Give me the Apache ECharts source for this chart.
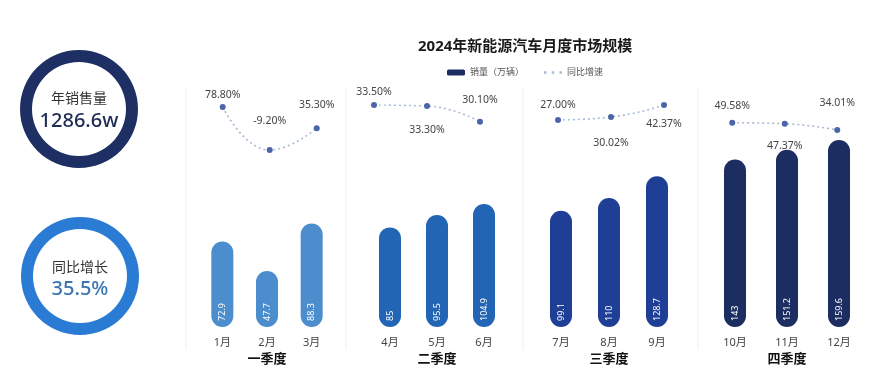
<!DOCTYPE html>
<html>
<head>
<meta charset="utf-8">
<script src="https://cdn.jsdelivr.net/npm/echarts@6/dist/echarts.min.js"></script>
<style>
html,body{margin:0;padding:0;background:#fff;}
#chart{width:877px;height:365px;}
</style>
</head>
<body>
<div id="chart"></div>
<script>
// ---- data ----
const chartTitle = '2024年新能源汽车月度市场规模';
const months = ['1月','2月','3月','4月','5月','6月','7月','8月','9月','10月','11月','12月'];
const quarters = ['一季度','二季度','三季度','四季度'];
const sales = [72.9, 47.7, 88.3, 85, 95.5, 104.9, 99.1, 110, 128.7, 143, 151.2, 159.6];
const yoy = [78.80, -9.20, 35.30, 33.50, 33.30, 30.10, 27.00, 30.02, 42.37, 49.58, 47.37, 34.01];
const salesName = '销量（万辆）';
const yoyName = '同比增速';
const annualLabel = '年销售量';
const annualValue = '1286.6w';
const growthLabel = '同比增长';
const growthValue = '35.5%';

// ---- layout / style ----
const FONT = "'Noto Sans', 'Noto Sans CJK SC', sans-serif";
const barColors = ['#4b8dcd', '#2265b5', '#1f3f97', '#1c2d62'];
const barGrids = [
  {left: 200, width: 134},
  {left: 366.5, width: 141},
  {left: 537, width: 144},
  {left: 709, width: 156}
];
const lineGrids = [
  {left: 199.2, width: 141, top: 107, height: 43},
  {left: 347.5, width: 159, top: 105, height: 16.7},
  {left: 531.5, width: 159, top: 105, height: 15},
  {left: 706, width: 157.5, top: 122.7, height: 7.3}
];
// per-point label placement [position, distance]
const lineLabelPlace = [
  ['top', 4], ['top', 21], ['top', 15],
  ['top', 5], ['bottom', 16], ['top', 13],
  ['top', 7], ['bottom', 18], ['bottom', 11],
  ['top', 8], ['bottom', 14], ['top', 19]
];

const grid = [], xAxis = [], yAxis = [], series = [];
for (let q = 0; q < 4; q++) {
  const cats = months.slice(q * 3, q * 3 + 3);
  // bar grid
  grid.push({left: barGrids[q].left, width: barGrids[q].width, top: 139.5, height: 187.5,
             containLabel: false, outerBoundsMode: 'none'});
  xAxis.push({
    type: 'category', gridIndex: 2 * q, data: cats,
    axisLine: {show: false}, axisTick: {show: false},
    axisLabel: {color: '#444', fontSize: 11, margin: 10, fontFamily: FONT},
    name: quarters[q], nameLocation: 'middle', nameGap: 24,
    nameTextStyle: {color: '#111', fontSize: 13, fontWeight: 'bold', fontFamily: FONT}
  });
  yAxis.push({type: 'value', gridIndex: 2 * q, min: 0, max: 160, show: false});
  series.push({
    type: 'bar', name: salesName, xAxisIndex: 2 * q, yAxisIndex: 2 * q,
    data: sales.slice(q * 3, q * 3 + 3),
    barWidth: 22,
    itemStyle: {color: barColors[q], borderRadius: 11},
    label: {
      show: true, position: 'insideBottom', rotate: 90, align: 'left', verticalAlign: 'middle',
      distance: 6, color: '#fff', fontSize: 9, fontFamily: FONT
    },
    silent: true
  });
  // line grid
  grid.push(Object.assign({containLabel: false, outerBoundsMode: 'none'}, lineGrids[q]));
  xAxis.push({type: 'category', gridIndex: 2 * q + 1, data: cats, show: false});
  yAxis.push({
    type: 'value', gridIndex: 2 * q + 1, show: false, scale: true,
    min: v => v.min, max: v => v.max
  });
  const pts = yoy.slice(q * 3, q * 3 + 3).map((v, i) => {
    const pl = lineLabelPlace[q * 3 + i];
    return {value: v, label: {position: pl[0], distance: pl[1]}};
  });
  series.push({
    type: 'line', name: yoyName, xAxisIndex: 2 * q + 1, yAxisIndex: 2 * q + 1,
    data: pts, smooth: true,
    symbol: 'circle', symbolSize: 6,
    itemStyle: {color: '#4b66a6'},
    lineStyle: {color: '#a9b9d8', width: 1.6, type: [2, 3]},
    label: {
      show: true, color: '#444', fontSize: 10.5, fontFamily: FONT,
      formatter: p => p.value.toFixed(2) + '%'
    },
    silent: true
  });
}

// rings
series.push({
  type: 'pie', center: [79, 109], radius: [47, 59], silent: true,
  label: {show: false}, labelLine: {show: false},
  data: [{value: 1, name: annualLabel, itemStyle: {color: '#1d2f63'}}],
  emphasis: {disabled: true}
});
series.push({
  type: 'pie', center: [80, 276], radius: [47, 59], silent: true,
  label: {show: false}, labelLine: {show: false},
  data: [{value: 1, name: growthLabel, itemStyle: {color: '#2a7bd3'}}],
  emphasis: {disabled: true}
});

const sepX = [186, 346, 523, 698];
const graphic = sepX.map(x => ({
  type: 'line', shape: {x1: x, y1: 88, x2: x, y2: 350},
  style: {stroke: '#efefef', lineWidth: 1}, silent: true
}));
graphic.push(
  {type: 'text', x: 79, y: 99, style: {text: annualLabel, fill: '#333', font: '14px ' + FONT, align: 'center', verticalAlign: 'middle'}},
  {type: 'text', x: 79, y: 121, style: {text: annualValue, fill: '#1f2c53', font: '500 20px ' + FONT, align: 'center', verticalAlign: 'middle'}},
  {type: 'text', x: 80, y: 268, style: {text: growthLabel, fill: '#333', font: '14px ' + FONT, align: 'center', verticalAlign: 'middle'}},
  {type: 'text', x: 80, y: 289, style: {text: growthValue, fill: '#3a76b4', font: '500 20px ' + FONT, align: 'center', verticalAlign: 'middle'}}
);

const chart = echarts.init(document.getElementById('chart'), null, {renderer: 'canvas'});
chart.setOption({
  backgroundColor: '#fff',
  animation: false,
  title: {
    text: chartTitle, left: 413, top: 34,
    textStyle: {fontSize: 15, fontWeight: 'bold', color: '#1a1a1a', fontFamily: FONT}
  },
  legend: {
    left: 442, top: 63, itemGap: 20, itemWidth: 18, itemHeight: 6,
    textStyle: {fontSize: 9, color: '#555', fontFamily: FONT},
    selectedMode: false,
    data: [
      {name: salesName, icon: 'roundRect', itemStyle: {color: '#1c2d62'}},
      {name: yoyName, icon: 'path://M0,0h2v2h-2z M6,0h2v2h-2z M12,0h2v2h-2z', itemStyle: {color: '#a9b9d8'}}
    ]
  },
  grid, xAxis, yAxis, series, graphic
});
</script>
</body>
</html>
